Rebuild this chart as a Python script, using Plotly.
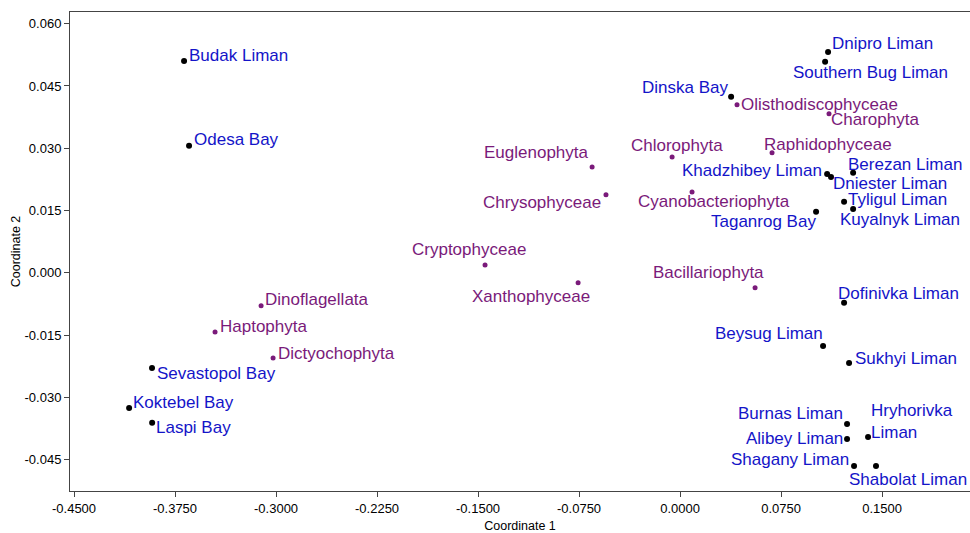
import plotly.graph_objects as go

# ---- data ----
site_names = ["Budak Liman", "Odesa Bay", "Sevastopol Bay", "Koktebel Bay", "Laspi Bay",
              "Dinska Bay", "Dnipro Liman", "Southern Bug Liman", "Khadzhibey Liman",
              "Dniester Liman", "Berezan Liman", "Tyligul Liman", "Kuyalnyk Liman",
              "Taganrog Bay", "Dofinivka Liman", "Beysug Liman", "Sukhyi Liman",
              "Burnas Liman", "Alibey Liman", "Hryhorivka<br>Liman", "Shagany Liman",
              "Shabolat Liman"]
site_x = [-0.3683, -0.3646, -0.3921, -0.4091, -0.3920,
          0.0379, 0.1099, 0.1077, 0.1092,
          0.1121, 0.1285, 0.1218, 0.1285,
          0.1010, 0.1218, 0.1062, 0.1255,
          0.1240, 0.1240, 0.1396, 0.1292,
          0.1455]
site_y = [0.0510, 0.0306, -0.0229, -0.0325, -0.0361,
          0.0424, 0.0532, 0.0508, 0.0238,
          0.0231, 0.0241, 0.0171, 0.0154,
          0.0147, -0.0072, -0.0176, -0.0217,
          -0.0364, -0.0400, -0.0395, -0.0465,
          -0.0465]

phyla_names = ["Dinoflagellata", "Haptophyta", "Dictyochophyta", "Cryptophyceae",
               "Xanthophyceae", "Euglenophyta", "Chrysophyceae", "Chlorophyta",
               "Cyanobacteriophyta", "Raphidophyceae", "Olisthodiscophyceae",
               "Charophyta", "Bacillariophyta"]
phyla_x = [-0.3111, -0.3453, -0.3022, -0.1448,
           -0.0757, -0.0653, -0.0550, -0.0059,
           0.0089, 0.0683, 0.0423,
           0.1106, 0.0557]
phyla_y = [-0.0079, -0.0142, -0.0205, 0.0019,
           -0.0024, 0.0255, 0.0188, 0.0279,
           0.0195, 0.0289, 0.0405,
           0.0383, -0.0036]

x_ticks = [-0.45, -0.375, -0.30, -0.225, -0.15, -0.075, 0.0, 0.075, 0.15]
x_tick_text = ["-0.4500", "-0.3750", "-0.3000", "-0.2250", "-0.1500", "-0.0750",
               "0.0000", "0.0750", "0.1500"]
y_ticks = [-0.045, -0.030, -0.015, 0.0, 0.015, 0.030, 0.045, 0.060]
y_tick_text = ["-0.045", "-0.030", "-0.015", "0.000", "0.015", "0.030", "0.045", "0.060"]

# ---- label placement (anchor, xshift px, yshift px) ----
label_pos = {
    "Budak Liman": ("left", 4, 6), "Odesa Bay": ("left", 4, 6),
    "Sevastopol Bay": ("left", 4, -5), "Koktebel Bay": ("left", 3, 5),
    "Laspi Bay": ("left", 3, -5), "Dinska Bay": ("right", -2, 9),
    "Dnipro Liman": ("left", 3, 8), "Southern Bug Liman": ("center", 45, -11),
    "Khadzhibey Liman": ("right", -4, 4), "Dniester Liman": ("left", 1, -7),
    "Berezan Liman": ("left", -6, 8), "Tyligul Liman": ("left", 3, 2),
    "Kuyalnyk Liman": ("left", -14, -11), "Taganrog Bay": ("right", 1, -10),
    "Dofinivka Liman": ("left", -7, 9), "Beysug Liman": ("right", 1, 13),
    "Sukhyi Liman": ("left", 5, 5), "Burnas Liman": ("right", -3, 11),
    "Alibey Liman": ("right", -3, 1), "Hryhorivka<br>Liman": ("left", 2, 15),
    "Shagany Liman": ("right", -4, 7), "Shabolat Liman": ("left", -28, -13),
    "Dinoflagellata": ("left", 3, 6), "Haptophyta": ("left", 4, 5),
    "Dictyochophyta": ("left", 4, 5), "Cryptophyceae": ("center", -16, 16),
    "Xanthophyceae": ("center", -47, -14), "Euglenophyta": ("right", -2, 14),
    "Chrysophyceae": ("right", -4, -8), "Chlorophyta": ("center", 5, 11),
    "Cyanobacteriophyta": ("center", 22, -10), "Raphidophyceae": ("left", -9, 8),
    "Olisthodiscophyceae": ("left", 3, 0), "Charophyta": ("left", 1, -6),
    "Bacillariophyta": ("center", -47, 15),
}

SITE_COLOR = "#1414c8"
PHYLA_COLOR = "#7a1a7a"
FONT = "Liberation Sans, Arial, sans-serif"

fig = go.Figure()
fig.add_trace(go.Scatter(x=phyla_x, y=phyla_y, mode="markers",
                         marker=dict(color=PHYLA_COLOR, size=5), hoverinfo="text",
                         text=phyla_names, showlegend=False))
fig.add_trace(go.Scatter(x=site_x, y=site_y, mode="markers",
                         marker=dict(color="black", size=6), hoverinfo="text",
                         text=site_names, showlegend=False))

annotations = []
for names, xs, ys, col in [(site_names, site_x, site_y, SITE_COLOR),
                           (phyla_names, phyla_x, phyla_y, PHYLA_COLOR)]:
    for n, x, y in zip(names, xs, ys):
        anc, dx, dy = label_pos[n]
        annotations.append(dict(x=x, y=y, xref="x", yref="y", text=n, showarrow=False,
                                xanchor=anc, yanchor="middle", align="left",
                                xshift=dx, yshift=dy, borderpad=0,
                                font=dict(family=FONT, size=17, color=col)))

fig.update_layout(
    width=970, height=533,
    margin=dict(l=70, r=0, t=12, b=42),
    paper_bgcolor="white", plot_bgcolor="white",
    font=dict(family=FONT, color="black"),
    annotations=annotations,
    xaxis=dict(range=[-0.453, 0.2153], tickvals=x_ticks, ticktext=x_tick_text,
               ticks="outside", ticklen=5, tickcolor="#444", showgrid=False,
               zeroline=False, showline=True, linecolor="#444", linewidth=1,
               mirror=True, tickfont=dict(size=13, family=FONT),
               title=dict(text="Coordinate 1", font=dict(size=12.5, family=FONT), standoff=8),
               automargin=False),
    yaxis=dict(range=[-0.0525, 0.0628], tickvals=y_ticks, ticktext=y_tick_text,
               ticks="outside", ticklen=5, tickcolor="#444", showgrid=False,
               zeroline=False, showline=True, linecolor="#444", linewidth=1,
               tickfont=dict(size=13, family=FONT),
               title=dict(text="Coordinate 2", font=dict(size=12.5, family=FONT), standoff=1),
               automargin=False),
)

fig.write_html("out.html", config={"displayModeBar": False},
               post_script="document.body.style.margin='0';document.body.style.overflow='hidden';")
